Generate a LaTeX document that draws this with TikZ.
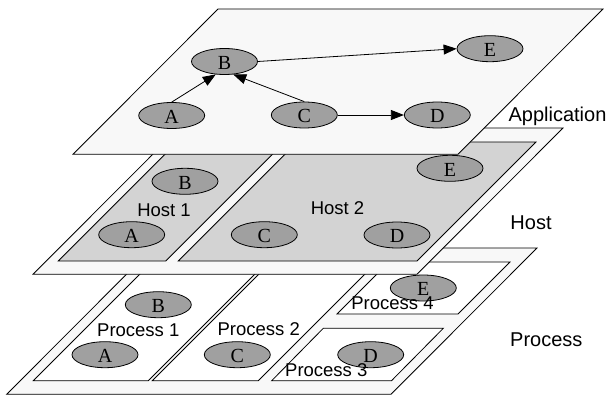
\documentclass[tikz,border=0pt]{standalone}
\usepackage{fontspec}
\setmainfont{Liberation Serif}
\newfontfamily\labelfont{Liberation Sans}
\usetikzlibrary{shapes.geometric,arrows.meta}
\definecolor{planefill}{HTML}{F8F8F8}
\definecolor{hostfill}{HTML}{D3D3D3}
\definecolor{nodefill}{HTML}{A0A0A0}

\begin{document}
\begin{tikzpicture}[x=1pt,y=-1pt,line width=0.8pt,
  plane/.style={draw,fill=planefill},
  hostbox/.style={draw,fill=hostfill},
  procbox/.style={draw,fill=white},
  task/.style={ellipse,draw,fill=nodefill,minimum width=66pt,minimum height=26pt,
    inner sep=0pt,text height=15.5pt,text depth=0pt,font=\fontsize{20}{20}\selectfont},
  inlabel/.style={anchor=base,inner sep=0pt,font=\labelfont\fontsize{18.5}{20}\selectfont},
  sidelabel/.style={anchor=base,inner sep=0pt,font=\labelfont\fontsize{20}{22}\selectfont},
  arr/.style={-{Triangle[length=13pt,width=10pt]}}]
\useasboundingbox (0,0) rectangle (610,396);

% ---- process layer ----
\draw[plane] (6.7,394.3) -- (152.7,248) -- (537,248) -- (391,394.3) -- cycle;
\draw[procbox] (33.3,380.7) -- (152,262) -- (267,262) -- (148.3,380.7) -- cycle;
\draw[procbox] (152.3,380.7) -- (271,262) -- (377,262) -- (258.3,380.7) -- cycle;
\draw[procbox] (337,314) -- (389,262) -- (510,262) -- (458,314) -- cycle;
\draw[procbox] (271.7,380.7) -- (323.3,328.3) -- (443.3,328.3) -- (391.5,380.7) -- cycle;
\node[task] (pB) at (158.3,304.7) {B};
\node[task] (pA) at (105,354.7) {A};
\node[task] (pC) at (237.3,354.7) {C};
\node[task] (pE) at (423.3,288) {E};
\node[task] (pD) at (370.7,354.7) {D};
\node[inlabel] (p1) at (138.3,336.7) {Process 1};
\node[inlabel] (p2) at (258.7,335) {Process 2};
\node[inlabel] (p4) at (392.5,309.3) {Process 4};
\node[inlabel] (p3) at (326.3,376.7) {Process 3};

% ---- host layer ----
\draw[plane] (33,274.3) -- (179,128) -- (563,128) -- (417,274.3) -- cycle;
\draw[hostbox] (58.3,261) -- (177.3,142) -- (284.7,142) -- (165.7,261) -- cycle;
\draw[hostbox] (178.3,261) -- (297.3,142) -- (536,142) -- (417,261) -- cycle;
\node[task] (hB) at (185,181.3) {B};
\node[task] (hA) at (131.7,234.7) {A};
\node[task] (hC) at (264.3,234.7) {C};
\node[task] (hE) at (450,168.3) {E};
\node[task] (hD) at (397,235) {D};
\node[inlabel] (h1) at (164,216.7) {Host 1};
\node[inlabel] (h2) at (337.5,214) {Host 2};

% ---- application layer ----
\draw[plane] (73,154.3) -- (218,9) -- (603,9) -- (458,154.3) -- cycle;
\node[task] (aB) at (224.5,61.5) {B};
\node[task] (aA) at (171.7,115.5) {A};
\node[task] (aC) at (304.3,115) {C};
\node[task] (aE) at (490,48.7) {E};
\node[task] (aD) at (437.3,115) {D};
\draw[arr] (aA.north) -- (aB.236);
\draw[arr] (aC.north) -- (aB.304);
\draw[arr] (aB.east) -- (aE.west);
\draw[arr] (aC.east) -- (aD.west);

% ---- layer names ----
\node[sidelabel] (lApp) at (557.5,121.7) {Application};
\node[sidelabel] (lHost) at (531,229) {Host};
\node[sidelabel] (lProc) at (546.3,346) {Process};
\end{tikzpicture}
\end{document}
